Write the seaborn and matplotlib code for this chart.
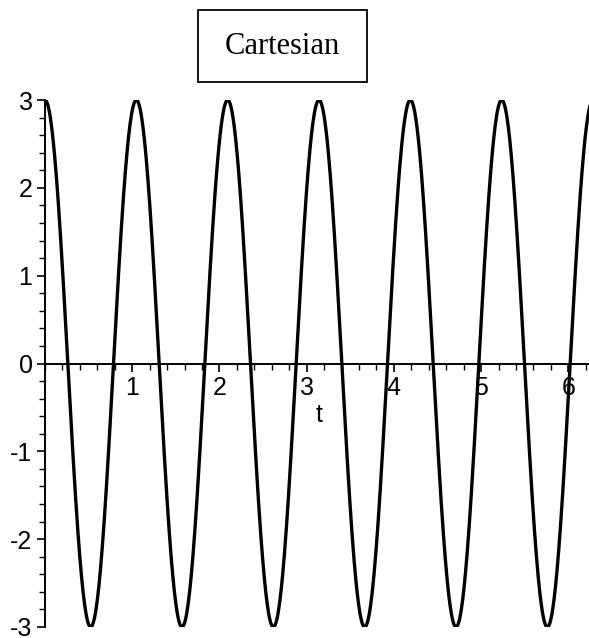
import numpy as np
import pandas as pd
import matplotlib
matplotlib.use("Agg")
import matplotlib.pyplot as plt
import matplotlib.patches as mpatches
from matplotlib.ticker import MultipleLocator
import seaborn as sns

# curve: 3*cos(6t) over one full turn of t
amplitude = 3.0
frequency = 6.0
t_start, t_end = 0.0, 2 * np.pi
x_ticks = [1, 2, 3, 4, 5, 6]
y_ticks = [-3, -2, -1, 0, 1, 2, 3]
title = "Cartesian"

t = np.linspace(t_start, t_end, 1200)
df = pd.DataFrame({"t": t, "y": amplitude * np.cos(frequency * t)})

sns.set_style("white")
plt.rcParams["font.family"] = ["Liberation Sans Narrow", "Liberation Sans", "DejaVu Sans"]
plt.rcParams["axes.unicode_minus"] = False
plt.rcParams["text.color"] = "black"

fig = plt.figure(figsize=(5.89, 6.38), dpi=100)
W, H = 589, 638
left, right, top, bottom = 45, 593, 100, 627
ax = fig.add_axes([left / W, 1 - bottom / H, (right - left) / W, (bottom - top) / H])

sns.lineplot(data=df, x="t", y="y", ax=ax, color="black", linewidth=2.4)

ax.set_xlim(t_start, t_end)
ax.set_ylim(-3, 3)
for s in ["top", "right"]:
    ax.spines[s].set_visible(False)
ax.spines["left"].set_position(("data", 0))
ax.spines["bottom"].set_position(("data", 0))
for s in ["left", "bottom"]:
    ax.spines[s].set_linewidth(1.4)
    ax.spines[s].set_color("black")

ax.set_xticks(x_ticks)
ax.set_yticks(y_ticks)
ax.xaxis.set_minor_locator(MultipleLocator(0.2))
ax.yaxis.set_minor_locator(MultipleLocator(0.2))
ax.tick_params(axis="both", which="major", direction="out", length=6, width=1.2,
               labelsize=18, color="black", labelcolor="black", left=True, bottom=True)
ax.tick_params(axis="both", which="minor", direction="out", length=4, width=1.0,
               color="black", left=True, bottom=True)
ax.tick_params(axis="x", pad=3)
ax.tick_params(axis="y", pad=3)

ax.set_xlabel("t", fontsize=18, color="black")
ax.xaxis.set_label_coords(0.5, 0.425)
ax.set_ylabel("")
ax.grid(False)

# boxed title
fig.patches.append(mpatches.Rectangle((198 / W, 1 - 82 / H), 169 / W, 72 / H,
                                      transform=fig.transFigure, fill=False,
                                      edgecolor="black", linewidth=1.3))
fig.text(282.5 / W, 1 - 46 / H, title, ha="center", va="center", fontsize=22,
         color="black", family=["Liberation Serif", "DejaVu Serif"])

fig.savefig("out.png", dpi=100)
